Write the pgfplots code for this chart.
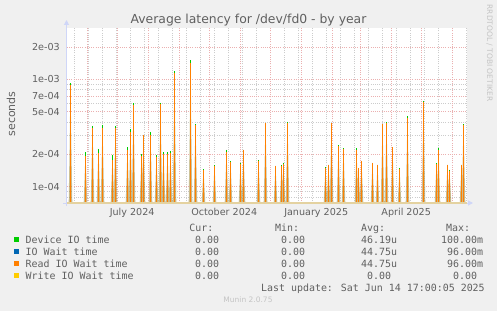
\documentclass[border=0pt]{standalone}
\usepackage{pgfplots}
\usepackage{pgfplotstable}
\pgfplotsset{compat=1.18}
\usepackage{fontspec}
\setmainfont{DejaVu Sans}
\newfontfamily\mono{DejaVu Sans Mono}
\usetikzlibrary{arrows.meta}
\definecolor{bg}{HTML}{F0F0F0}
\definecolor{fontc}{HTML}{606060}
\definecolor{axisc}{HTML}{CFD6F8}
\definecolor{mgrid}{HTML}{EBB0B0}
\definecolor{gridc}{HTML}{CCCCCC}
\definecolor{devc}{HTML}{00CC00}
\definecolor{ioc}{HTML}{0066B3}
\definecolor{readc}{HTML}{FF8000}
\definecolor{writec}{HTML}{FFCC00}
\definecolor{shadeb}{RGB}{160,135,55}
\definecolor{shadet}{RGB}{210,230,195}
\definecolor{basec}{RGB}{228,210,160}
\definecolor{faint}{HTML}{C4C4C4}

\pgfplotstableread{
d g o
3.5 9.2e-4 8.85e-4
18.5 2.10e-4 1.94e-4
25.5 3.68e-4 3.51e-4
31.5 2.25e-4 2.06e-4
35.5 3.77e-4 3.55e-4
45.5 1.98e-4 1.78e-4
48.5 3.68e-4 3.55e-4
60.5 2.33e-4 2.21e-4
63.5 3.43e-4 3.26e-4
66.5 5.99e-4 5.80e-4
74.5 2.00e-4 1.92e-4
76.5 3.04e-4 3.00e-4
83.5 3.22e-4 3.04e-4
89.5 1.97e-4 1.90e-4
93.5 6.06e-4 5.90e-4
96.5 2.10e-4 2.00e-4
100.5 2.10e-4 2.00e-4
103.5 2.14e-4 2.06e-4
107.5 1.19e-3 1.14e-3
123.5 1.51e-3 1.41e-3
128.5 3.85e-4 3.75e-4
136.5 1.45e-4 1.44e-4
147.5 1.59e-4 1.55e-4
159.5 2.21e-4 2.11e-4
163.5 1.72e-4 1.71e-4
173.5 1.68e-4 1.64e-4
176.5 2.21e-4 2.20e-4
191.5 1.76e-4 1.75e-4
198.5 3.96e-4 3.95e-4
208.5 1.57e-4 1.56e-4
214.5 1.60e-4 1.56e-4
216.5 1.68e-4 1.62e-4
220.5 4.04e-4 3.90e-4
258.5 1.52e-4 1.48e-4
261.5 1.61e-4 1.60e-4
264.5 3.95e-4 3.90e-4
271.5 2.45e-4 2.38e-4
276.5 2.29e-4 2.24e-4
289.5 2.29e-4 2.20e-4
291.5 1.50e-4 1.49e-4
294.5 1.75e-4 1.72e-4
305.5 1.67e-4 1.66e-4
310.5 1.61e-4 1.60e-4
315.5 3.86e-4 3.85e-4
319.5 4.00e-4 3.95e-4
325.5 2.34e-4 2.33e-4
332.5 1.50e-4 1.47e-4
340.5 4.56e-4 4.40e-4
356.5 6.22e-4 6.20e-4
369.5 1.65e-4 1.64e-4
371.5 2.30e-4 2.20e-4
380.5 1.61e-4 1.60e-4
382.5 1.44e-4 1.40e-4
394.5 1.61e-4 1.60e-4
396.5 3.85e-4 3.75e-4
}\spikes

\begin{document}
\begin{tikzpicture}[x=1pt,y=1pt]
\useasboundingbox (0,0) rectangle (497,311);
\fill[bg] (0,0) rectangle (497,311);
\begin{axis}[
  at={(67pt,108pt)}, anchor=south west, scale only axis,
  width=400pt, height=175pt,
  ymode=log, log origin y=infty,
  xmin=0, xmax=400, ymin=7.06e-5, ymax=3.0e-3,
  axis background/.style={fill=white},
  axis line style={draw=none},
  tick pos=left, major tick length=0pt, minor tick length=0pt,
  no markers,
  xtick={65.2,157.2,249.2,339.2},
  xticklabels={July 2024,October 2024,January 2025,April 2025},
  xmajorgrids=false,
  extra x ticks={20.5,50.5,81.5,112.5,142.5,173.5,203.5,234.5,265.5,293.5,324.5,354.5,385.5},
  extra x tick labels={},
  extra x tick style={grid=major},
  minor xtick={7.5,21.5,...,399.5},
  xminorgrids=true,
  ytick={1e-4,2e-4,5e-4,7e-4,1e-3,2e-3},
  yticklabels={1e-04,2e-04,5e-04,7e-04,1e-03,2e-03},
  minor ytick={8e-5,9e-5,3e-4,4e-4,6e-4,8e-4,9e-4},
  ymajorgrids=true, yminorgrids=true,
  major grid style={draw=mgrid, line width=0.8pt, dash pattern=on 1pt off 1.2pt},
  minor grid style={draw=gridc, line width=0.8pt, dash pattern=on 1pt off 1.2pt},
  ticklabel style={font=\fontsize{9.6}{11}\selectfont, text=fontc},
  yticklabel style={anchor=east, inner sep=0pt, xshift=-7pt},
  xticklabel style={anchor=north, inner sep=0pt, yshift=-5pt},
]
\addplot[draw=none, bottom color=shadeb, top color=shadet, fill opacity=0.6] coordinates {
(0,7.06e-5)
(1.7,7.06e-5)(3.5,9.2e-4)(5.3,7.06e-5)
(16.7,7.06e-5)(18.5,2.10e-4)(20.3,7.06e-5)
(23.7,7.06e-5)(25.5,3.68e-4)(27.3,7.06e-5)
(29.7,7.06e-5)(31.5,2.25e-4)(33.3,7.06e-5)
(33.7,7.06e-5)(35.5,3.77e-4)(37.3,7.06e-5)
(43.7,7.06e-5)(45.5,1.98e-4)(47.3,7.06e-5)
(46.7,7.06e-5)(48.5,3.68e-4)(50.3,7.06e-5)
(58.7,7.06e-5)(60.5,2.33e-4)(62.3,7.06e-5)
(61.7,7.06e-5)(63.5,3.43e-4)(65.3,7.06e-5)
(64.7,7.06e-5)(66.5,5.99e-4)(68.3,7.06e-5)
(72.7,7.06e-5)(74.5,2.00e-4)(76.3,7.06e-5)
(74.7,7.06e-5)(76.5,3.04e-4)(78.3,7.06e-5)
(81.7,7.06e-5)(83.5,3.22e-4)(85.3,7.06e-5)
(87.7,7.06e-5)(89.5,1.97e-4)(91.3,7.06e-5)
(91.7,7.06e-5)(93.5,6.06e-4)(95.3,7.06e-5)
(94.7,7.06e-5)(96.5,2.10e-4)(98.3,7.06e-5)
(98.7,7.06e-5)(100.5,2.10e-4)(102.3,7.06e-5)
(101.7,7.06e-5)(103.5,2.14e-4)(105.3,7.06e-5)
(105.7,7.06e-5)(107.5,1.19e-3)(109.3,7.06e-5)
(121.7,7.06e-5)(123.5,1.51e-3)(125.3,7.06e-5)
(126.7,7.06e-5)(128.5,3.85e-4)(130.3,7.06e-5)
(134.7,7.06e-5)(136.5,1.45e-4)(138.3,7.06e-5)
(145.7,7.06e-5)(147.5,1.59e-4)(149.3,7.06e-5)
(157.7,7.06e-5)(159.5,2.21e-4)(161.3,7.06e-5)
(161.7,7.06e-5)(163.5,1.72e-4)(165.3,7.06e-5)
(171.7,7.06e-5)(173.5,1.68e-4)(175.3,7.06e-5)
(174.7,7.06e-5)(176.5,2.21e-4)(178.3,7.06e-5)
(189.7,7.06e-5)(191.5,1.76e-4)(193.3,7.06e-5)
(196.7,7.06e-5)(198.5,3.96e-4)(200.3,7.06e-5)
(206.7,7.06e-5)(208.5,1.57e-4)(210.3,7.06e-5)
(212.7,7.06e-5)(214.5,1.60e-4)(216.3,7.06e-5)
(214.7,7.06e-5)(216.5,1.68e-4)(218.3,7.06e-5)
(218.7,7.06e-5)(220.5,4.04e-4)(222.3,7.06e-5)
(256.7,7.06e-5)(258.5,1.52e-4)(260.3,7.06e-5)
(259.7,7.06e-5)(261.5,1.61e-4)(263.3,7.06e-5)
(262.7,7.06e-5)(264.5,3.95e-4)(266.3,7.06e-5)
(269.7,7.06e-5)(271.5,2.45e-4)(273.3,7.06e-5)
(274.7,7.06e-5)(276.5,2.29e-4)(278.3,7.06e-5)
(287.7,7.06e-5)(289.5,2.29e-4)(291.3,7.06e-5)
(289.7,7.06e-5)(291.5,1.50e-4)(293.3,7.06e-5)
(292.7,7.06e-5)(294.5,1.75e-4)(296.3,7.06e-5)
(303.7,7.06e-5)(305.5,1.67e-4)(307.3,7.06e-5)
(308.7,7.06e-5)(310.5,1.61e-4)(312.3,7.06e-5)
(313.7,7.06e-5)(315.5,3.86e-4)(317.3,7.06e-5)
(317.7,7.06e-5)(319.5,4.00e-4)(321.3,7.06e-5)
(323.7,7.06e-5)(325.5,2.34e-4)(327.3,7.06e-5)
(330.7,7.06e-5)(332.5,1.50e-4)(334.3,7.06e-5)
(338.7,7.06e-5)(340.5,4.56e-4)(342.3,7.06e-5)
(354.7,7.06e-5)(356.5,6.22e-4)(358.3,7.06e-5)
(367.7,7.06e-5)(369.5,1.65e-4)(371.3,7.06e-5)
(369.7,7.06e-5)(371.5,2.30e-4)(373.3,7.06e-5)
(378.7,7.06e-5)(380.5,1.61e-4)(382.3,7.06e-5)
(380.7,7.06e-5)(382.5,1.44e-4)(384.3,7.06e-5)
(392.7,7.06e-5)(394.5,1.61e-4)(396.3,7.06e-5)
(394.7,7.06e-5)(396.5,3.85e-4)(398.3,7.06e-5)
(400,7.06e-5)};
\addplot[ycomb, devc, line width=1.5pt] table[x=d,y=g]{\spikes};
\addplot[ycomb, ioc, line width=1.5pt] table[x=d,y=o]{\spikes};
\addplot[ycomb, readc, line width=1.5pt] table[x=d,y=o]{\spikes};
\addplot[basec, line width=2pt] coordinates {(0,7.06e-5)(400,7.06e-5)};
\end{axis}
% axes arrows
\draw[axisc, line width=1pt, -{Triangle[width=5pt,length=5pt]}] (66.5,105) -- (66.5,291);
\draw[axisc, line width=1pt] (63,108) -- (67,108);
\draw[axisc, line width=1pt, -{Triangle[width=5pt,length=5pt]}] (467,108) -- (473,108);
% title and labels
\node[anchor=base, inner sep=0pt, font=\fontsize{12.4}{14}\selectfont, text=fontc] at (248.5,287.5) {Average latency for /dev/fd0 - by year};
\node[rotate=90, anchor=base, inner sep=0pt, font=\fontsize{11}{13}\selectfont, text=fontc] at (15,197) {seconds};
\node[rotate=-90, anchor=base, inner sep=0pt, font=\fontsize{7.5}{9}\selectfont, text=faint] at (487,258) {RRDTOOL / TOBI OETIKER};
\node[anchor=base, inner sep=0pt, font=\fontsize{7.5}{9}\selectfont, text=faint] at (248,8.5) {Munin 2.0.75};
% legend
\begin{scope}[every node/.style={anchor=base west, inner sep=0pt, font=\mono\fontsize{9.95}{12}\selectfont, text=fontc}]
\node at (189.2,79.7) {Cur:};
\node at (274.9,79.7) {Min:};
\node at (360.9,79.7) {Avg:};
\node at (445.9,79.7) {Max:};
\fill[devc] (14,68.7) rectangle (19.3,74);
\fill[ioc] (14,56.7) rectangle (19.3,62);
\fill[readc] (14,44.7) rectangle (19.3,50);
\fill[writec] (14,32.7) rectangle (19.3,38);
\node at (25.5,67.9) {Device IO time};
\node at (25.5,55.8) {IO Wait time};
\node at (25.5,43.8) {Read IO Wait time};
\node at (25.5,31.8) {Write IO Wait time};
\node at (194.9,67.9) {0.00};
\node at (194.9,55.8) {0.00};
\node at (194.9,43.8) {0.00};
\node at (194.9,31.8) {0.00};
\node at (280.9,67.9) {0.00};
\node at (280.9,55.8) {0.00};
\node at (280.9,43.8) {0.00};
\node at (280.9,31.8) {0.00};
\node at (360.9,67.9) {46.19u};
\node at (360.9,55.8) {44.75u};
\node at (360.9,43.8) {44.75u};
\node at (366.9,31.8) {0.00};
\node at (440.9,67.9) {100.00m};
\node at (446.9,55.8) {96.00m};
\node at (446.9,43.8) {96.00m};
\node at (452.9,31.8) {0.00};
\node at (260.9,20.0) {Last update: Sat Jun 14 17:00:05 2025};
\end{scope}
\end{tikzpicture}
\end{document}
